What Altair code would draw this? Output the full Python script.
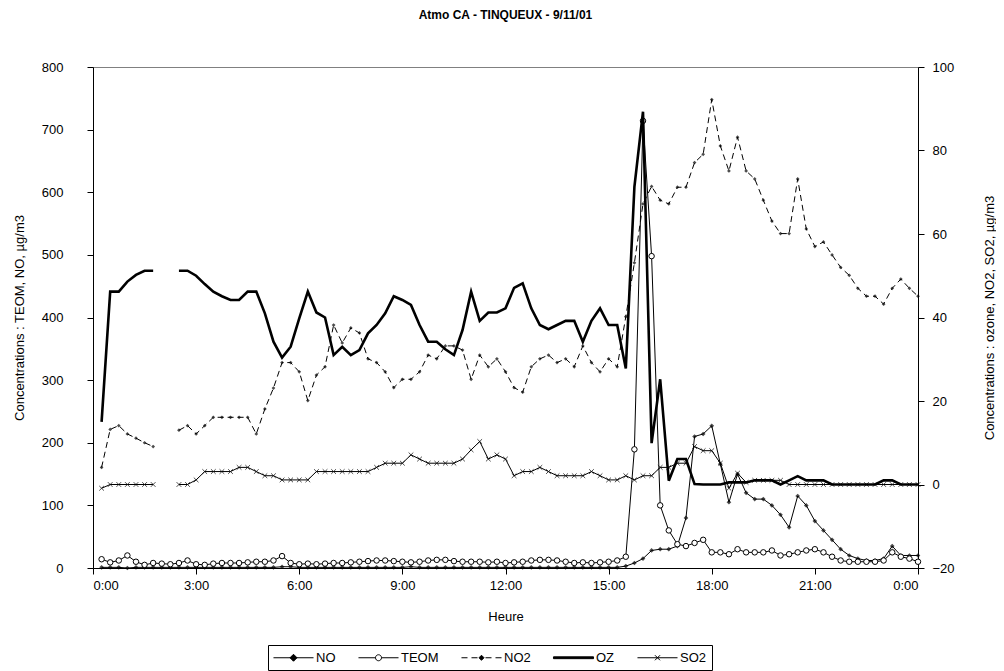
import altair as alt
import pandas as pd

FONT = "Liberation Sans"

# time axis: quarter hours from 0:15 to 24:00
hours = [k / 4 for k in range(1, 97)]

NO = [1, 1, 1, 0, 1, 1, 1, 1, 1,
      1, 1, 1, 1, 1, 1, 1, 1, 1, 1, 1,
      1, 2, 2, 1, 1, 1, 1, 1, 1, 1,
      1, 1, 1, 1, 1, 1, 2, 1, 1, 1,
      1, 1, 1, 1, 1, 1, 1, 1, 1, 1,
      1, 1, 1, 1, 1, 1, 1, 1, 1, 1,
      1,
      3, 8, 15, 28, 30, 30, 35, 80, 210, 214, 227, 166, 105, 150, 120, 110, 110,
      100, 85, 65, 115, 100, 75, 60, 45, 30, 20, 15, 12, 12, 15, 35, 20, 20, 20]

TEOM = [14, 9, 12, 20, 10, 5, 8, 7, 6,
        8, 12, 6, 5, 7, 8, 8, 8, 9, 10, 10,
        12, 19, 8, 6, 7, 6, 7, 8, 8, 9,
        10, 11, 12, 12, 11, 10, 9, 10, 12, 13,
        13, 11, 10, 10, 10, 9, 10, 8, 9, 10,
        12, 13, 13, 12, 10, 8, 9, 8, 9, 10,
        12, 18,
        189.5, 714, 498, 100, 60, 38, 35, 40, 45, 25, 25, 22, 30, 25, 25, 25, 28,
        20, 22, 25, 28, 30, 25, 18, 12, 10, 10, 10, 10, 12, 25, 18, 15, 10]

NO2 = [4.1, 13.2, 14.1, 12.1, 11.1, 10.0, 9.1, None, None,
       13.0, 14.1, 12.1, 14.1, 16.1, 16.1, 16.1, 16.1, 16.1, 12.1, 18.1,
       23.1, 29.2, 29.2, 27.0, 20.1, 26.2, 28.2, 38.2, 33.9, 37.5,
       36.3, 30.1, 29.2, 27.0, 23.2, 25.2, 25.2, 27.0, 31.0, 30.1,
       33.2, 33.2, 32.2, 25.2, 31.0, 28.2, 30.1, 27.0, 23.2, 22.1,
       28.2, 30.1, 31.0, 29.2, 30.1, 28.2, 33.2, 29.2, 27.0, 30.1,
       28.2, 40.2, 53.1, 67.2, 71.4, 68.1, 67.2, 71.2, 71.2, 77.1,
       79.1, 92.2, 81.1, 75.1, 83.2, 75.1, 73.2, 68.1, 63.1, 60.1,
       60.1, 73.2, 61.2, 57.0, 58.1, 55.0, 52.0, 50.1, 47.0, 45.1,
       45.1, 43.2, 47.0, 49.2, 47.0, 45.1]

OZ = [15.0, 46.2, 46.2, 48.6, 50.2, 51.2, 51.2, None, None,
      51.2, 51.2, 50.0, 48.0, 46.2, 45.1, 44.2, 44.2, 46.2, 46.2, 41.0,
      34.2, 30.4, 33.0, 39.8, 46.2, 41.2, 40.0, 31.0, 33.0, 31.0,
      32.2, 36.2, 38.2, 41.0, 45.1, 44.2, 43.0, 38.2, 34.2, 34.2,
      32.4, 31.0, 37.0, 46.2, 39.2, 41.2, 41.2, 42.2, 47.1, 48.2,
      42.2, 38.2, 37.2, 38.2, 39.2, 39.2, 34.2, 39.2, 42.2, 38.2,
      38.2, 27.8, 71.3, 89.3, 9.9, 25.2, 0.9, 6.1, 6.1, 0.1,
      0, 0, 0, 0.5, 0.5, 0.5, 1, 1, 1, 0,
      1, 2, 1, 1, 1, 0, 0, 0, 0, 0,
      0, 1, 1, 0, 0, 0]

SO2 = [-0.9, 0, 0, 0, 0, 0, 0, None, None,
       0, 0, 1.1, 3.1, 3.1, 3.1, 3.1, 4.1, 4.1, 3.1, 2.1,
       2.1, 1.1, 1.1, 1.1, 1.1, 3.1, 3.1, 3.1, 3.1, 3.1,
       3.1, 3.1, 4.1, 5.1, 5.1, 5.1, 7.1, 6.1, 5.1, 5.1,
       5.1, 5.1, 6.1, 8.3, 10.3, 6.1, 7.1, 6.1, 2.1, 3.1,
       3.1, 4.1, 3.1, 2.1, 2.1, 2.1, 2.1, 3.1, 2.1, 1.1,
       1.1, 2.1, 1.1, 2.1, 2.1, 4.1, 4.1, 5.1, 5.1, 9.1,
       8.1, 8.1, 5.1, -0.9, 2.7, 0.5, 1, 1, 1, 1,
       0, 0, 0, 0, 0, 0, 0, 0, 0, 0,
       0, 0, 0, 0, 0, 0]

series_names = ["NO", "TEOM", "NO2", "OZ", "SO2"]
x_ticks = [0, 3, 6, 9, 12, 15, 18, 21, 24]
left_ticks = [0, 100, 200, 300, 400, 500, 600, 700, 800]
right_ticks = [-20, 0, 20, 40, 60, 80, 100]

df = pd.DataFrame({"h": hours, "NO": NO, "TEOM": TEOM, "NO2": NO2, "OZ": OZ, "SO2": SO2})
legend_df = pd.DataFrame({"series": series_names, "h": [None] * 5, "dummy": [None] * 5})

left_title = "Concentrations : TEOM, NO, µg/m3"
right_title = "Concentrations : ozone, NO2, SO2, µg/m3"

x_axis = alt.Axis(values=x_ticks, labelExpr="floor(datum.value) % 24 + ':00'",
                  tickSize=6, labelPadding=5, titlePadding=18,
                  grid=False, domainColor="black", tickColor="black")
xs = alt.Scale(domain=[0, 24], nice=False, zero=False)


def X():
    return alt.X("h:Q", scale=xs, axis=x_axis, title="Heure")


left_axis = alt.Axis(values=left_ticks, tickSize=6, labelPadding=24, titlePadding=15,
                     grid=False, domainColor="black", tickColor="black")
right_axis = alt.Axis(values=right_ticks, orient="right", tickSize=6, labelPadding=8,
                      titlePadding=42, titleAngle=270, grid=False,
                      domainColor="black", tickColor="black")
ls = alt.Scale(domain=[0, 800], nice=False, zero=False)
rs = alt.Scale(domain=[-20, 100], nice=False, zero=False)


def YL(field):
    return alt.Y(f"{field}:Q", scale=ls, axis=left_axis, title=left_title)


def YR(field):
    return alt.Y(f"{field}:Q", scale=rs, axis=right_axis, title=right_title)


base = alt.Chart(df)
brk = "break-paths-show-domains"

no_line = base.mark_line(color="black", strokeWidth=1, invalid=brk).encode(x=X(), y=YL("NO"))
no_pts = base.mark_point(shape="diamond", filled=True, color="black", size=22).encode(x=X(), y=YL("NO"))
teom_line = base.mark_line(color="black", strokeWidth=1, invalid=brk).encode(x=X(), y=YL("TEOM"))
teom_pts = base.mark_point(shape="circle", filled=False, color="black", fill="white",
                           size=30, strokeWidth=1, opacity=1).encode(x=X(), y=YL("TEOM"))

# legend symbols: drawn in units of 7 px (symbolSize 196), spanning 40 px
legend_paths = [
    "M-2.86,0H2.86M0,-0.5L0.5,0L0,0.5L-0.5,0Z",
    "M-2.86,0H-0.43M0.43,0H2.86M0.43,0A0.43,0.43,0,1,1,-0.43,0A0.43,0.43,0,1,1,0.43,0",
    "M-2.86,0H-2M-1.43,0H-0.57M0.57,0H1.43M2,0H2.86M0,-0.36L0.36,0L0,0.36L-0.36,0Z",
    "M-2.86,-0.13H2.86V0.13H-2.86Z",
    "M-2.86,0H2.86M-0.36,-0.36L0.36,0.36M-0.36,0.36L0.36,-0.36",
]
leg = alt.Legend(orient="none", legendX=175, legendY=578, direction="horizontal",
                 title=None, strokeColor="black", fillColor="white", padding=5,
                 symbolSize=196, symbolStrokeWidth=1, symbolStrokeColor="black",
                 symbolOffset=13, labelFont=FONT, labelFontSize=13, labelColor="black",
                 columnPadding=20, labelOffset=15, symbolOpacity=1)
legend_layer = alt.Chart(legend_df).mark_point(invalid="filter", strokeWidth=1,
                                               opacity=1).encode(
    x=X(), y=YL("dummy"),
    shape=alt.Shape("series:N", scale=alt.Scale(domain=series_names, range=legend_paths),
                    legend=leg, sort=series_names),
    fill=alt.Fill("series:N", scale=alt.Scale(domain=series_names,
                                               range=["black", "white", "black", "black", "black"]),
                  legend=leg, sort=series_names),
    stroke=alt.Stroke("series:N", scale=alt.Scale(domain=series_names,
                                                   range=["black", "black", "black", "black", "black"]),
                      legend=leg, sort=series_names),
)

left = alt.layer(no_line, teom_line, no_pts, teom_pts, legend_layer)

no2_line = base.mark_line(color="black", strokeWidth=1, strokeDash=[6, 4], invalid=brk).encode(
    x=X(), y=YR("NO2"))
no2_pts = base.mark_point(shape="diamond", filled=True, color="black", size=14).encode(x=X(), y=YR("NO2"))
oz_line = base.mark_line(color="black", strokeWidth=2.6, invalid=brk).encode(x=X(), y=YR("OZ"))
so2_line = base.mark_line(color="black", strokeWidth=1, invalid=brk).encode(x=X(), y=YR("SO2"))
so2_pts = base.mark_point(shape="M-1,-1L1,1M-1,1L1,-1", filled=False, color="black",
                          size=22, strokeWidth=1).encode(x=X(), y=YR("SO2"))

right = alt.layer(no2_line, no2_pts, oz_line, so2_line, so2_pts)

chart = alt.layer(left, right).resolve_scale(y="independent").properties(
    width=825, height=501,
    autosize=alt.AutoSizeParams(type="none"),
    padding={"left": 85, "top": 59, "right": 78, "bottom": 103},
    background="white",
    title=alt.Title("Atmo CA - TINQUEUX - 9/11/01", font=FONT, fontSize=12,
                    fontWeight="bold", color="black", offset=39, anchor="middle"),
).configure_view(stroke="#808080", strokeWidth=1).configure_axis(
    labelFont=FONT, labelFontSize=13, labelColor="black",
    titleFont=FONT, titleFontSize=13, titleFontWeight="normal", titleColor="black",
)

chart.save("out.html", embed_options={"renderer": "svg", "actions": False})
